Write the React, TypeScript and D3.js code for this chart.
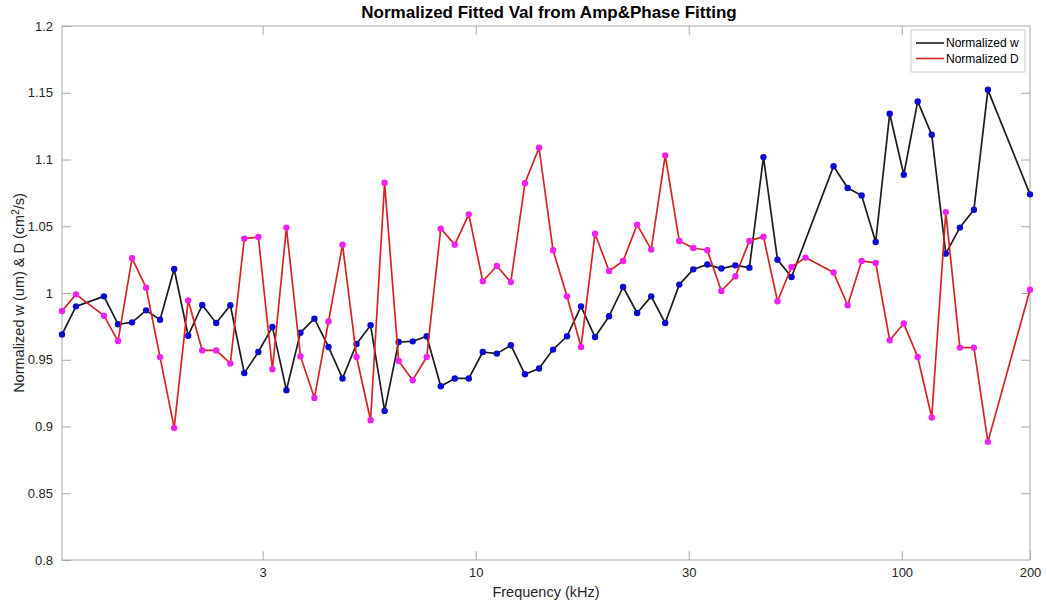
import * as d3 from 'd3';
import { useEffect, useRef } from 'react';

// sweep frequencies (kHz), log spaced
const freqKHz = [
  1.069, 1.153, 1.244, 1.341, 1.447, 1.561, 1.684, 1.816, 1.96, 2.114,
  2.281, 2.46, 2.655, 2.863, 3.089, 3.333, 3.595, 3.878, 4.183, 4.513,
  4.869, 5.252, 5.666, 6.112, 6.594, 7.114, 7.674, 8.279, 8.931, 9.634,
  10.39, 11.21, 12.09, 13.05, 14.08, 15.19, 16.38, 17.67, 19.06, 20.56,
  22.18, 23.93, 25.82, 27.85, 30.05, 32.41, 34.97, 37.72, 40.69, 43.9,
  47.36, 51.09, 55.12, 59.46, 64.14, 69.18, 74.65, 80.52, 86.86, 93.7,
  101.1, 109.0, 117.6, 126.9, 136.9, 147.7, 159.3, 171.9, 185.4, 200.0,
];

// null = point dropped from the fit
const normW = [
  0.969, 0.99, null, 0.9975, 0.9766, 0.978, 0.987, 0.98, 1.018, 0.968,
  0.991, 0.9775, 0.9908, 0.94, 0.9558, 0.9746, 0.9272, 0.9703, 0.9808, 0.9596,
  0.936, 0.9618, 0.9758, 0.9117, 0.9633, 0.9638, 0.9676, 0.9302, 0.936, 0.936,
  0.9558, 0.9546, 0.9609, 0.9391, 0.9434, 0.9576, 0.9676, 0.99, 0.967, 0.9826,
  1.0045, 0.985, 0.9975, 0.9775, 1.0063, 1.0177, 1.0213, 1.0183, 1.0207, 1.019,
  1.1018, 1.025, 1.012, null, null, 1.095, 1.0786, 1.0731, 1.0382, 1.1343,
  1.0886, 1.1435, 1.1185, 1.0295, 1.049, 1.0624, 1.1522, null, null, 1.0739,
];

const normD = [
  0.9865, 0.999, null, 0.983, 0.964, 1.026, 1.004, 0.952, 0.899, 0.9945,
  0.957, 0.957, 0.9472, 1.0407, 1.0419, 0.9429, 1.049, 0.9526, 0.9214, 0.9786,
  1.0362, 0.9521, 0.9047, 1.0826, 0.9491, 0.9347, 0.9521, 1.0482, 1.0362, 1.0589,
  1.0088, 1.0202, 1.0082, 1.0823, 1.1088, 1.032, 0.9975, 0.9596, 1.0444, 1.0165,
  1.024, 1.0512, 1.0325, 1.1031, 1.0389, 1.0337, 1.032, 1.0015, 1.0125, 1.039,
  1.0422, 0.9938, 1.0195, 1.0265, null, 1.0153, 0.9908, 1.024, 1.0225, 0.9646,
  0.9771, 0.9521, 0.9067, 1.0606, 0.9591, 0.9591, 0.8885, null, null, 1.0025,
];

const xTickVals = [3.1623, 10, 31.623, 100, 200];
const xTickLabels = ['3', '10', '30', '100', '200'];
const yTickVals = [0.8, 0.85, 0.9, 0.95, 1, 1.05, 1.1, 1.15, 1.2];

const seriesNames = ['Normalized w', 'Normalized D'];

const width = 1047;
const height = 604;
const margin = { top: 26, right: 17, bottom: 44, left: 62 };
const FONT = "'Liberation Sans', Arial, Helvetica, sans-serif";
const AXIS_COLOR = '#a8a8a8';
const TEXT_COLOR = '#262626';

type Pt = { f: number; v: number };
const toPoints = (vals: (number | null)[]): Pt[] =>
  freqKHz
    .map((f, i) => ({ f, v: vals[i] as number }))
    .filter((d, i) => vals[i] !== null);

export default function App() {
  const gx = useRef<SVGGElement>(null);
  const gxTop = useRef<SVGGElement>(null);
  const gy = useRef<SVGGElement>(null);
  const gyRight = useRef<SVGGElement>(null);

  const xScale = d3
    .scaleLog()
    .domain([freqKHz[0], freqKHz[freqKHz.length - 1]])
    .range([margin.left, width - margin.right]);
  const yScale = d3
    .scaleLinear()
    .domain([0.8, 1.2])
    .range([height - margin.bottom, margin.top]);

  useEffect(() => {
    const style = (sel: any, labels: boolean) => {
      sel.select('.domain').remove();
      sel.selectAll('.tick line').attr('stroke', AXIS_COLOR);
      sel
        .selectAll('.tick text')
        .attr('fill', TEXT_COLOR)
        .style('font-family', FONT)
        .style('font-size', '13px')
        .style('display', labels ? null : 'none');
    };
    const bx = d3
      .axisBottom(xScale)
      .tickValues(xTickVals)
      .tickFormat((d, i) => xTickLabels[i])
      .tickSizeInner(-9)
      .tickSizeOuter(0)
      .tickPadding(8);
    style(d3.select(gx.current).call(bx as any), true);

    const tx = d3.axisTop(xScale).tickValues(xTickVals.slice(0, 4)).tickSizeInner(-9).tickSizeOuter(0);
    style(d3.select(gxTop.current).call(tx as any), false);

    const ly = d3
      .axisLeft(yScale)
      .tickValues(yTickVals)
      .tickFormat((d) => d3.format('~g')(d as number))
      .tickSizeInner(-9)
      .tickSizeOuter(0)
      .tickPadding(9);
    style(d3.select(gy.current).call(ly as any), true);

    const ry = d3.axisRight(yScale).tickValues(yTickVals.slice(1, -1)).tickSizeInner(-9).tickSizeOuter(0);
    style(d3.select(gyRight.current).call(ry as any), false);
  }, []);

  const line = d3
    .line<Pt>()
    .x((d) => xScale(d.f))
    .y((d) => yScale(d.v));

  const wPts = toPoints(normW);
  const dPts = toPoints(normD);

  const x0 = margin.left;
  const x1 = width - margin.right;
  const y0 = margin.top;
  const y1 = height - margin.bottom;

  const legX = 911;
  const legY = 30;

  return (
    <svg
      width={width}
      height={height}
      style={{ position: 'absolute', left: 0, top: 0, background: '#fff' }}
      fontFamily={FONT}
    >
      <rect x={0} y={0} width={width} height={height} fill='#fff' />
      <g ref={gx} transform={`translate(0, ${y1})`} />
      <g ref={gxTop} transform={`translate(0, ${y0})`} />
      <g ref={gy} transform={`translate(${x0}, 0)`} />
      <g ref={gyRight} transform={`translate(${x1}, 0)`} />
      <rect x={x0} y={y0} width={x1 - x0} height={y1 - y0} fill='none' stroke={AXIS_COLOR} strokeWidth={1} />

      {/* w series */}
      <path d={line(wPts) ?? ''} fill='none' stroke='#1c1c1c' strokeWidth={1.7} strokeLinejoin='round' />
      {wPts.map((d, i) => (
        <circle key={'w' + i} cx={xScale(d.f)} cy={yScale(d.v)} r={3.2} fill='#0a0ad2' />
      ))}

      {/* D series */}
      <path d={line(dPts) ?? ''} fill='none' stroke='#d42424' strokeWidth={1.7} strokeLinejoin='round' />
      {dPts.map((d, i) => (
        <circle key={'d' + i} cx={xScale(d.f)} cy={yScale(d.v)} r={3.2} fill='#f020f0' />
      ))}

      <text x={(x0 + x1) / 2 + 3} y={18} textAnchor='middle' fontWeight='bold' fontSize={17} fill='#000'>
        Normalized Fitted Val from Amp&amp;Phase Fitting
      </text>
      <text x={(x0 + x1) / 2} y={597} textAnchor='middle' fontSize={14.5} fill={TEXT_COLOR}>
        Frequency (kHz)
      </text>
      <text
        transform={`translate(24, ${(y0 + y1) / 2}) rotate(-90)`}
        textAnchor='middle'
        fontSize={14.5}
        fill={TEXT_COLOR}
      >
        Normalized w (um) &amp; D (cm<tspan dy={-5} fontSize={10}>2</tspan>
        <tspan dy={5}>/s)</tspan>
      </text>

      {/* legend */}
      <rect x={legX} y={legY} width={114} height={42} fill='#fff' stroke='#c8c8c8' />
      {seriesNames.map((name, i) => (
        <g key={name} transform={`translate(${legX}, ${legY + 13 + i * 15.5})`}>
          <line x1={5} x2={33} y1={0} y2={0} stroke={i === 0 ? '#1c1c1c' : '#d42424'} strokeWidth={1.6} />
          <text x={35} y={4} fontSize={12} fill='#000'>
            {name}
          </text>
        </g>
      ))}
    </svg>
  );
}
